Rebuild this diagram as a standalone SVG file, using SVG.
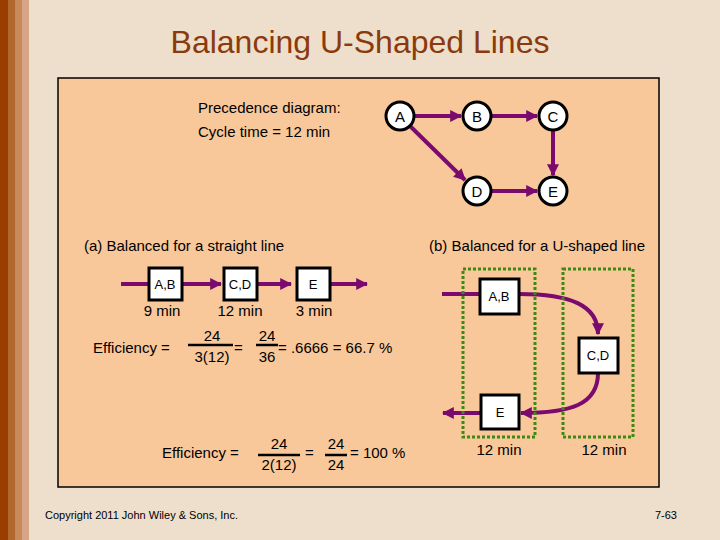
<svg xmlns="http://www.w3.org/2000/svg" width="720" height="540" viewBox="0 0 720 540">
<defs>
<marker id="ah" viewBox="0 0 10 10" refX="9" refY="5" markerWidth="3" markerHeight="3" orient="auto" markerUnits="strokeWidth"><path d="M0,0L10,5L0,10z" fill="#7A0A6E"/></marker>
<style>
text{font-family:"Liberation Sans",Arial,sans-serif;fill:#000}
.t{font-size:15px}
.s{font-size:13px}
.c{fill:#fff;stroke:#000;stroke-width:3}
.b{fill:#fff;stroke:#000;stroke-width:3}
.e{fill:none;stroke:#7A0A6E;stroke-width:4;marker-end:url(#ah)}
.l{fill:none;stroke:#7A0A6E;stroke-width:4}
.g{fill:none;stroke:#3C8A12;stroke-width:3;stroke-dasharray:3,2}
.bar{stroke:#000;stroke-width:2.5}
</style>
</defs>
<rect width="720" height="540" fill="#EDDFCC"/>
<rect x="0" y="0" width="8" height="540" fill="#9A3E00"/>
<rect x="8" y="0" width="7" height="540" fill="#B0682F"/>
<rect x="15" y="0" width="7" height="540" fill="#C78B5B"/>
<rect x="22" y="0" width="7" height="540" fill="#D7A586"/>
<text x="360" y="53" font-size="32" text-anchor="middle" style="fill:#8B3A0C">Balancing U-Shaped Lines</text>
<rect x="58" y="78" width="601" height="409" fill="#F9C89A" stroke="#000" stroke-width="1.5"/>
<text class="t" x="198" y="113">Precedence diagram:</text>
<text class="t" x="198" y="137">Cycle time = 12 min</text>
<text class="t" x="84" y="251">(a) Balanced for a straight line</text>
<text class="t" x="645" y="251" text-anchor="end">(b) Balanced for a U-shaped line</text>
<g id="connectors">
<line class="e" x1="414" y1="116" x2="461" y2="116"/>
<line class="e" x1="491" y1="116" x2="537" y2="116"/>
<line class="e" x1="553" y1="130" x2="553" y2="175"/>
<line class="e" x1="491" y1="191" x2="537" y2="191"/>
<line class="e" x1="410" y1="126" x2="465" y2="180"/>
<line class="l" x1="121" y1="284" x2="148" y2="284"/>
<line class="e" x1="182" y1="284" x2="221" y2="284"/>
<line class="e" x1="257" y1="284" x2="291" y2="284"/>
<line class="e" x1="330" y1="284" x2="367" y2="284"/>
<line class="l" x1="442" y1="294" x2="479" y2="294"/>
<path class="e" d="M519,294 C570,294 598,305 598,334"/>
<path class="e" d="M598,373 C598,405 570,413 521,413"/>
<line class="e" x1="480" y1="413" x2="443" y2="413"/>
</g>
<g id="nA"><circle class="c" cx="400" cy="116" r="14"/><text class="t" x="400" y="122" text-anchor="middle">A</text></g>
<g id="nB"><circle class="c" cx="477" cy="116" r="14"/><text class="t" x="477" y="122" text-anchor="middle">B</text></g>
<g id="nC"><circle class="c" cx="553" cy="116" r="14"/><text class="t" x="553" y="122" text-anchor="middle">C</text></g>
<g id="nD"><circle class="c" cx="477" cy="191" r="14"/><text class="t" x="477" y="197" text-anchor="middle">D</text></g>
<g id="nE"><circle class="c" cx="553" cy="191" r="14"/><text class="t" x="553" y="197" text-anchor="middle">E</text></g>
<g id="sAB"><rect class="b" x="149" y="268" width="33" height="32"/><text class="s" x="165" y="289" text-anchor="middle">A,B</text><text class="t" x="162" y="316" text-anchor="middle">9 min</text></g>
<g id="sCD"><rect class="b" x="224" y="268" width="33" height="32"/><text class="s" x="240" y="289" text-anchor="middle">C,D</text><text class="t" x="240" y="316" text-anchor="middle">12 min</text></g>
<g id="sE"><rect class="b" x="297" y="268" width="33" height="32"/><text class="s" x="313" y="289" text-anchor="middle">E</text><text class="t" x="314" y="316" text-anchor="middle">3 min</text></g>
<g id="eff1">
<text class="t" x="93" y="353">Efficiency =</text>
<line class="bar" x1="188" y1="345" x2="233" y2="345"/>
<text class="t" x="212" y="341" text-anchor="middle">24</text>
<text class="t" x="212" y="362" text-anchor="middle">3(12)</text>
<text class="t" x="234" y="353">=</text>
<line class="bar" x1="256" y1="345" x2="278" y2="345"/>
<text class="t" x="267" y="341" text-anchor="middle">24</text>
<text class="t" x="267" y="362" text-anchor="middle">36</text>
<text class="t" x="278" y="353">= .6666 = 66.7 %</text>
</g>
<g id="st1"><rect class="g" x="463" y="269" width="72" height="168"/><text class="t" x="499" y="455" text-anchor="middle">12 min</text></g>
<g id="st2"><rect class="g" x="563" y="269" width="70" height="168"/><text class="t" x="604" y="455" text-anchor="middle">12 min</text></g>
<g id="uAB"><rect class="b" x="480" y="279" width="39" height="35"/><text class="s" x="499" y="301" text-anchor="middle">A,B</text></g>
<g id="uCD"><rect class="b" x="579" y="338" width="39" height="35"/><text class="s" x="598" y="360" text-anchor="middle">C,D</text></g>
<g id="uE"><rect class="b" x="481" y="395" width="38" height="34"/><text class="s" x="500" y="417" text-anchor="middle">E</text></g>
<g id="eff2">
<text class="t" x="162" y="458">Efficiency =</text>
<line class="bar" x1="258" y1="455" x2="300" y2="455"/>
<text class="t" x="279" y="449" text-anchor="middle">24</text>
<text class="t" x="279" y="470" text-anchor="middle">2(12)</text>
<text class="t" x="305" y="458">=</text>
<line class="bar" x1="325" y1="455" x2="347" y2="455"/>
<text class="t" x="336" y="449" text-anchor="middle">24</text>
<text class="t" x="336" y="470" text-anchor="middle">24</text>
<text class="t" x="350" y="458">= 100 %</text>
</g>
<text x="45" y="519" font-size="11">Copyright 2011 John Wiley &amp; Sons, Inc.</text>
<text x="677" y="519" font-size="11" text-anchor="end">7-63</text>
</svg>
